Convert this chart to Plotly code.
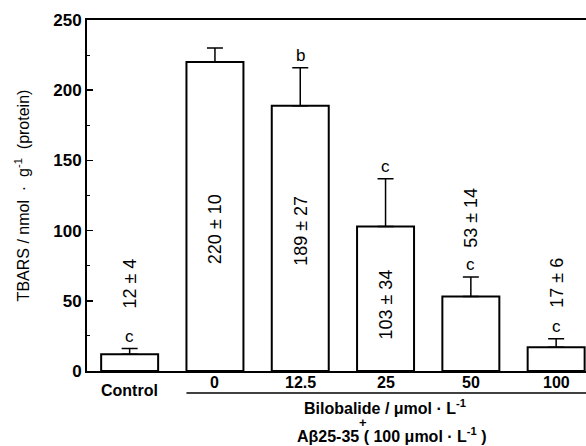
import plotly.graph_objects as go

categories = ["Control", "0", "12.5", "25", "50", "100"]
tbars_mean = [12, 220, 189, 103, 53, 17]
tbars_sem = [4, 10, 27, 34, 14, 6]
sig_letters = ["c", "", "b", "c", "c", "c"]
value_labels = ["12 ± 4", "220 ± 10", "189 ± 27", "103 ± 34", "53 ± 14", "17 ± 6"]
y_ticks = [0, 50, 100, 150, 200, 250]

# style: vertical centre (data units) of the rotated value labels
label_centres = [62, 101, 100, 47, 109, 63]

FONT = "Arial, Liberation Sans, sans-serif"
xs = list(range(len(categories)))

fig = go.Figure()
fig.add_trace(go.Bar(
    x=xs, y=tbars_mean, width=0.668,
    marker=dict(color="white", line=dict(color="black", width=2)),
    error_y=dict(type="data", array=tbars_sem, arrayminus=[0]*len(xs), symmetric=False,
                 color="black", thickness=1.5, width=8),
    showlegend=False, hoverinfo="skip",
))

ann = []
for i, (m, s, l, t, yc) in enumerate(zip(tbars_mean, tbars_sem, sig_letters, value_labels, label_centres)):
    if l:
        ann.append(dict(x=i, y=m + s, xref="x", yref="y", text=l, showarrow=False,
                        xanchor="center", yanchor="middle", yshift=12,
                        font=dict(size=17, family=FONT, color="black")))
    ann.append(dict(x=i, y=yc, xref="x", yref="y", text=t, textangle=-90, showarrow=False,
                    xanchor="center", yanchor="middle",
                    font=dict(size=18, family=FONT, color="black")))

# x category labels
for i, c in enumerate(categories):
    ann.append(dict(x=i, y=0, xref="x", yref="paper", text=c, showarrow=False,
                    xanchor="center", yanchor="middle", yshift=(-19 if i == 0 else -11),
                    font=dict(size=16, family=FONT, color="black", weight="bold")))

bottom = [
    (385, -0.103, "Bilobalide / μmol · L<sup>-1</sup>", 16),
    (363, -0.146, "+", 13),
    (392, -0.183, "Aβ25-35 ( 100 μmol · L<sup>-1</sup> )", 16),
]
for px, py, txt, sz in bottom:
    ann.append(dict(x=(px - 87) / 499.0, y=py, xref="paper", yref="paper", text=txt,
                    xanchor="center", yanchor="middle", showarrow=False,
                    font=dict(size=sz, family=FONT, color="black", weight="bold")))

fig.update_layout(
    template="none",
    width=586, height=446,
    margin=dict(l=87, r=0, t=20, b=75, autoexpand=False),
    paper_bgcolor="white", plot_bgcolor="white",
    font=dict(family=FONT, color="black"),
    annotations=ann,
    shapes=[dict(type="line", xref="x", yref="paper", x0=1 - 0.334, x1=5.6,
                 y0=-0.0627, y1=-0.0627, line=dict(color="black", width=1.5))],
    xaxis=dict(range=[-0.5, 5.35], showticklabels=False, ticks="", showgrid=False,
               zeroline=False, showline=True, linecolor="black", linewidth=2, mirror=True,
               automargin=False),
    yaxis=dict(range=[0, 250], tickvals=y_ticks, ticks="inside", ticklen=6, tickwidth=1.5,
               tickcolor="black", showgrid=False, zeroline=False, showline=True,
               linecolor="black", linewidth=2, automargin=False,
               tickfont=dict(size=17, family=FONT, color="black", weight="bold"),
               minor=dict(tickvals=[25, 75, 125, 175, 225], ticks="inside", ticklen=3,
                          tickcolor="black", tickwidth=1),
               title=dict(text="TBARS / nmol  ·  g<sup>-1</sup>  (protein)", standoff=20,
                          font=dict(size=16, family=FONT, color="black"))),
)

fig.write_html("out.html", config={"displayModeBar": False, "staticPlot": True},
               post_script="document.body.style.margin='0';document.body.style.overflow='hidden';")
